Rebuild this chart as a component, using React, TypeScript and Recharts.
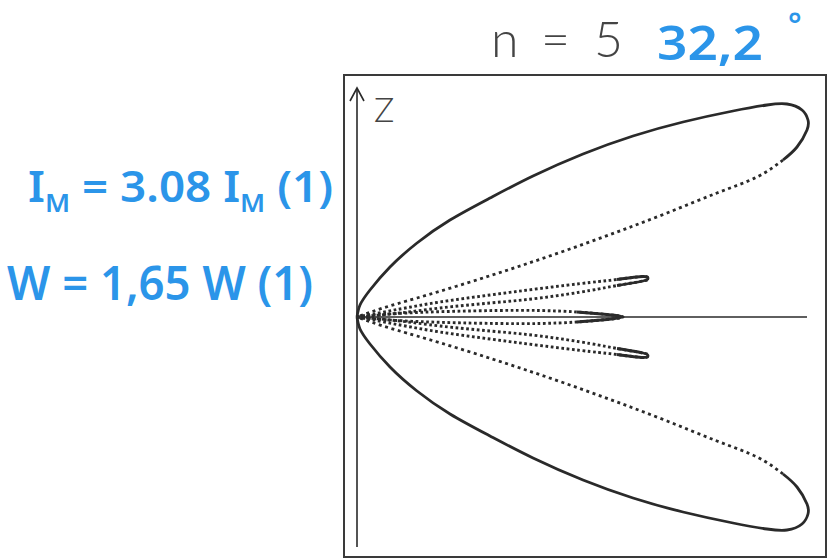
import { LineChart, Line, XAxis, YAxis, ReferenceLine, ReferenceArea } from 'recharts';

type Pt = { x: number; y: number };

// Polar pattern traced in plot units (origin at the radiator, x along the axis)
const mainUpperOuter: Pt[] = [
  { x: 0, y: 0 }, { x: 0.03, y: 0.12 }, { x: 0.13, y: 0.27 }, { x: 0.33, y: 0.5 },
  { x: 0.6, y: 0.74 }, { x: 0.93, y: 0.97 }, { x: 1.33, y: 1.19 }, { x: 1.76, y: 1.41 },
  { x: 2.26, y: 1.63 }, { x: 2.76, y: 1.81 }, { x: 3.26, y: 1.95 }, { x: 3.76, y: 2.06 },
  { x: 4.1, y: 2.12 }, { x: 4.3, y: 2.13 }, { x: 4.45, y: 2.07 }, { x: 4.51, y: 1.97 },
  { x: 4.5, y: 1.87 }, { x: 4.4, y: 1.7 }, { x: 4.26, y: 1.57 },
];
const mainUpperInner: Pt[] = [
  { x: 4.26, y: 1.57 }, { x: 4.0, y: 1.4 }, { x: 3.6, y: 1.24 }, { x: 3.1, y: 1.04 },
  { x: 2.6, y: 0.85 }, { x: 2.1, y: 0.67 }, { x: 1.6, y: 0.5 }, { x: 1.1, y: 0.34 },
  { x: 0.6, y: 0.19 }, { x: 0.26, y: 0.09 }, { x: 0, y: 0 },
];
const mainLowerOuter: Pt[] = [
  { x: 0, y: 0 }, { x: 0.03, y: -0.12 }, { x: 0.13, y: -0.27 }, { x: 0.33, y: -0.5 },
  { x: 0.6, y: -0.74 }, { x: 0.93, y: -0.97 }, { x: 1.33, y: -1.19 }, { x: 1.76, y: -1.41 },
  { x: 2.26, y: -1.63 }, { x: 2.76, y: -1.81 }, { x: 3.26, y: -1.95 }, { x: 3.76, y: -2.06 },
  { x: 4.1, y: -2.12 }, { x: 4.3, y: -2.13 }, { x: 4.45, y: -2.07 }, { x: 4.51, y: -1.97 },
  { x: 4.5, y: -1.87 }, { x: 4.4, y: -1.7 }, { x: 4.26, y: -1.57 },
];
const mainLowerInner: Pt[] = [
  { x: 4.26, y: -1.57 }, { x: 4.0, y: -1.4 }, { x: 3.6, y: -1.24 }, { x: 3.1, y: -1.04 },
  { x: 2.6, y: -0.85 }, { x: 2.1, y: -0.67 }, { x: 1.6, y: -0.5 }, { x: 1.1, y: -0.34 },
  { x: 0.6, y: -0.19 }, { x: 0.26, y: -0.09 }, { x: 0, y: 0 },
];

const sideUpper: Pt[] = [
  { x: 0, y: 0 }, { x: 0.43, y: 0.08 }, { x: 0.83, y: 0.15 }, { x: 1.33, y: 0.22 },
  { x: 1.83, y: 0.285 }, { x: 2.33, y: 0.345 }, { x: 2.6, y: 0.375 }, { x: 2.86, y: 0.405 },
  { x: 2.91, y: 0.385 }, { x: 2.86, y: 0.36 }, { x: 2.6, y: 0.315 }, { x: 2.33, y: 0.265 },
  { x: 1.83, y: 0.19 }, { x: 1.33, y: 0.14 }, { x: 0.83, y: 0.09 }, { x: 0.43, y: 0.04 },
  { x: 0, y: 0 },
];
const sideUpperTip: Pt[] = [
  { x: 2.6, y: 0.375 }, { x: 2.86, y: 0.405 }, { x: 2.91, y: 0.385 }, { x: 2.86, y: 0.36 }, { x: 2.6, y: 0.315 },
];
const sideLower: Pt[] = [
  { x: 0, y: 0 }, { x: 0.43, y: -0.08 }, { x: 0.83, y: -0.15 }, { x: 1.33, y: -0.22 },
  { x: 1.83, y: -0.285 }, { x: 2.33, y: -0.345 }, { x: 2.6, y: -0.375 }, { x: 2.86, y: -0.405 },
  { x: 2.91, y: -0.385 }, { x: 2.86, y: -0.36 }, { x: 2.6, y: -0.315 }, { x: 2.33, y: -0.265 },
  { x: 1.83, y: -0.19 }, { x: 1.33, y: -0.14 }, { x: 0.83, y: -0.09 }, { x: 0.43, y: -0.04 },
  { x: 0, y: 0 },
];
const sideLowerTip: Pt[] = [
  { x: 2.6, y: -0.375 }, { x: 2.86, y: -0.405 }, { x: 2.91, y: -0.385 }, { x: 2.86, y: -0.36 }, { x: 2.6, y: -0.315 },
];

const centralLobe: Pt[] = [
  { x: 0, y: 0 }, { x: 0.4, y: 0.035 }, { x: 0.9, y: 0.055 }, { x: 1.4, y: 0.065 },
  { x: 1.83, y: 0.065 }, { x: 2.2, y: 0.05 }, { x: 2.5, y: 0.025 }, { x: 2.66, y: 0 },
  { x: 2.5, y: -0.025 }, { x: 2.2, y: -0.05 }, { x: 1.83, y: -0.065 }, { x: 1.4, y: -0.065 },
  { x: 0.9, y: -0.055 }, { x: 0.4, y: -0.035 }, { x: 0, y: 0 },
];
const centralTip: Pt[] = [
  { x: 2.2, y: 0.05 }, { x: 2.5, y: 0.025 }, { x: 2.66, y: 0 }, { x: 2.5, y: -0.025 }, { x: 2.2, y: -0.05 },
];

const zArrowHead: Pt[] = [{ x: -0.07, y: 2.16 }, { x: 0, y: 2.29 }, { x: 0.07, y: 2.16 }];
const lobeAxis: Pt[] = [{ x: 0, y: 0 }, { x: 4.5, y: 0 }];

const xDomain = [-0.13, 4.69];
const yDomain = [-2.4, 2.42];

const INK = '#2a2a2a';
const BLUE = '#2b95e9';

const solid = { stroke: INK, strokeWidth: 2.8, dot: false, isAnimationActive: false } as const;
const dotted = { ...solid, strokeDasharray: '3 3.6' };
const fineDotted = { ...solid, strokeWidth: 2.9, strokeDasharray: '2.7 2.6' };

export default function App() {
  return (
    <div style={{ position: 'absolute', left: 0, top: 0, width: 832, height: 560, background: '#fff' }}>
      <LineChart width={832} height={560} margin={{ top: 75, right: 6, bottom: 3, left: 344 }}>
        <XAxis type="number" dataKey="x" domain={xDomain} hide allowDataOverflow />
        <YAxis type="number" dataKey="y" domain={yDomain} hide allowDataOverflow />
        <ReferenceArea
          x1={xDomain[0]} x2={xDomain[1]} y1={yDomain[0]} y2={yDomain[1]}
          fill="none" stroke="#3a3a3a" strokeWidth={2} ifOverflow="visible"
        />
        <ReferenceLine segment={[{ x: 0, y: -2.3 }, { x: 0, y: 2.29 }]} stroke={INK} strokeWidth={1.6} />
        <Line data={lobeAxis} dataKey="y" type="linear" stroke={INK} strokeWidth={1.6} dot={false} isAnimationActive={false} />
        <Line data={zArrowHead} dataKey="y" type="linear" stroke={INK} strokeWidth={1.6} dot={false} isAnimationActive={false} />

        <Line data={mainUpperOuter} dataKey="y" type="natural" {...solid} />
        <Line data={mainUpperInner} dataKey="y" type="natural" {...dotted} />
        <Line data={mainLowerOuter} dataKey="y" type="natural" {...solid} />
        <Line data={mainLowerInner} dataKey="y" type="natural" {...dotted} />

        <Line data={sideUpper} dataKey="y" type="natural" {...fineDotted} />
        <Line data={sideUpperTip} dataKey="y" type="natural" {...solid} />
        <Line data={sideLower} dataKey="y" type="natural" {...fineDotted} />
        <Line data={sideLowerTip} dataKey="y" type="natural" {...solid} />

        <Line data={centralLobe} dataKey="y" type="natural" {...fineDotted} />
        <Line data={centralTip} dataKey="y" type="natural" {...solid} />
      </LineChart>

      <svg width={832} height={560} style={{ position: 'absolute', left: 0, top: 0, pointerEvents: 'none' }}>
        <text fontFamily="Lato, 'DejaVu Sans', sans-serif" fontWeight={300} fontSize={50} fill="#444">
          <tspan x={491} y={57}>n</tspan>
          <tspan x={541} y={57}>=</tspan>
          <tspan x={594} y={57}>5</tspan>
        </text>
        <text x={374} y={122} fontFamily="Lato, 'DejaVu Sans', sans-serif" fontWeight={300} fontSize={34} fill="#444">Z</text>

        <g fill={BLUE} fontFamily="'Noto Sans', sans-serif" fontWeight={600}>
          <text x={657} y={60} fontSize={46} textLength={106} lengthAdjust="spacingAndGlyphs">32,2</text>
          <text x={788} y={36} fontSize={32}>°</text>

          <text x={28} y={202} fontSize={44} textLength={305} lengthAdjust="spacingAndGlyphs">
            I<tspan fontSize={26} dy={10}>M</tspan>
            <tspan dy={-10}> = 3.08 I</tspan>
            <tspan fontSize={26} dy={10}>M</tspan>
            <tspan dy={-10}> (1)</tspan>
          </text>
          <text x={7} y={300} fontSize={46} textLength={306} lengthAdjust="spacingAndGlyphs">W = 1,65 W (1)</text>
        </g>
      </svg>
    </div>
  );
}
